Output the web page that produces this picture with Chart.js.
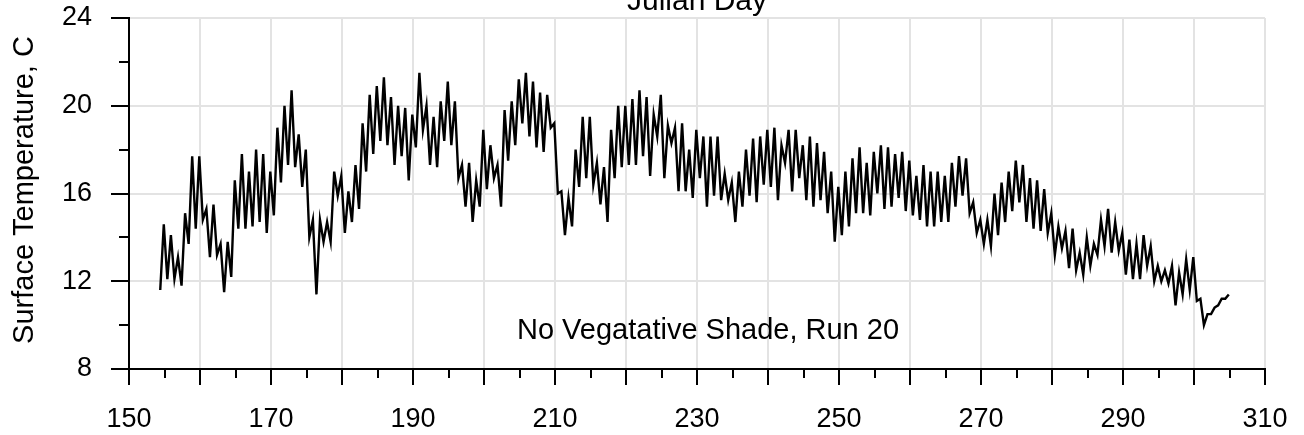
<!DOCTYPE html>
<html>
<head>
<meta charset="utf-8">
<script src="https://cdn.jsdelivr.net/npm/chart.js@4"></script>
<style>
  html, body { margin: 0; padding: 0; background: #fff; }
</style>
</head>
<body>
<canvas id="chart" width="1304" height="435"></canvas>
<script>
// Daily low / high of surface temperature (day 154 .. 304)
const FIRST_DAY = 154;
const dailyMin = [
    11.6, 12.1, 12.1, 11.8, 13.7, 14.4, 14.8, 13.1, 13.2, 11.5,
    12.2, 14.4, 14.4, 14.5, 14.7, 14.2, 15.0, 16.5, 17.3, 17.2,
    16.3, 14.0, 11.4, 13.8, 13.8, 15.9, 14.2, 14.7, 15.3, 17.0,
    17.8, 18.4, 18.2, 17.3, 17.7, 16.6, 18.1, 18.9, 17.3, 17.2,
    18.4, 18.2, 16.7, 15.4, 14.7, 15.4, 16.2, 16.7, 15.4, 17.5,
    18.2, 19.2, 18.6, 18.1, 17.9, 19.0, 16.0, 14.1, 14.5, 16.3,
    16.7, 16.4, 15.5, 14.7, 16.7, 17.2, 17.3, 17.3, 17.7, 16.8,
    18.6, 16.7, 18.3, 16.1, 16.1, 15.8, 16.7, 15.4, 15.9, 15.7,
    15.7, 14.7, 15.4, 15.9, 15.6, 16.4, 16.3, 15.7, 17.4, 16.1,
    16.7, 15.7, 15.4, 15.7, 15.1, 13.8, 14.1, 14.5, 15.1, 15.1,
    15.0, 16.0, 15.3, 15.4, 15.8, 15.2, 15.0, 14.8, 14.5, 14.5,
    14.7, 14.7, 15.4, 15.9, 15.1, 14.2, 13.7, 13.6, 14.1, 14.7,
    15.2, 15.6, 14.7, 14.4, 14.3, 14.2, 13.2, 13.5, 12.6, 12.5,
    12.3, 12.7, 13.2, 13.6, 13.3, 13.4, 12.3, 12.1, 12.1, 12.7,
    12.0, 12.0, 11.9, 10.9, 11.4, 11.6, 11.1, 10.0, 10.5, 10.9,
    11.2
];
const dailyMax = [
    14.6, 14.1, 13.1, 15.1, 17.7, 17.7, 15.3, 15.5, 13.7, 13.8,
    16.6, 17.8, 17.0, 18.0, 17.8, 17.0, 19.0, 20.0, 20.7, 18.7,
    18.0, 14.8, 14.8, 14.7, 17.0, 16.8, 16.1, 17.3, 19.2, 20.5,
    20.9, 21.3, 20.4, 20.0, 19.9, 19.6, 21.5, 20.0, 19.5, 20.2,
    21.1, 20.2, 17.3, 17.4, 16.6, 18.9, 18.2, 17.3, 19.8, 20.2,
    21.2, 21.5, 21.1, 20.6, 20.5, 19.2, 16.1, 15.8, 18.0, 19.5,
    19.5, 17.4, 17.2, 18.9, 20.0, 20.0, 20.3, 20.7, 20.4, 19.6,
    20.5, 19.1, 19.0, 19.2, 18.0, 18.9, 18.6, 18.6, 18.6, 16.9,
    16.5, 17.0, 18.0, 18.5, 18.6, 18.9, 19.0, 18.2, 18.9, 18.9,
    18.2, 18.6, 18.3, 17.9, 17.0, 16.3, 17.0, 17.6, 18.1, 17.4,
    17.9, 18.2, 18.1, 17.8, 17.9, 17.5, 16.8, 17.3, 17.0, 17.0,
    16.8, 17.4, 17.7, 17.6, 15.6, 14.8, 14.8, 16.0, 16.5, 17.0,
    17.5, 17.3, 16.7, 16.6, 16.2, 15.1, 14.5, 14.3, 14.4, 13.3,
    14.0, 13.7, 14.8, 15.3, 14.7, 14.2, 13.9, 13.7, 14.1, 13.6,
    12.7, 12.5, 12.7, 12.4, 13.0, 13.1, 11.2, 10.5, 10.8, 11.2,
    11.4
];

// Axis labels
const xLabels = [150, 170, 190, 210, 230, 250, 270, 290, 310];
const yLabels = [8, 12, 16, 20, 24];

const FONT = '"Liberation Sans", Arial, sans-serif';
const GRID = '#e3e3e3';

// low late morning, high late evening
const points = [];
dailyMin.forEach((lo, i) => {
    points.push({ x: FIRST_DAY + i + 0.4, y: lo });
    points.push({ x: FIRST_DAY + i + 0.9, y: dailyMax[i] });
});

// drop the label overhang padding so layout.padding alone sets the plot box
function noOverhang(s) {
    s.paddingLeft = s.paddingRight = s.paddingTop = s.paddingBottom = 0;
}

// tick marks + free text (axis title on top, y title, note)
const decor = {
    id: 'decor',
    afterDraw(chart) {
        const { ctx, chartArea: a, scales: { x, y } } = chart;
        ctx.save();
        ctx.strokeStyle = '#000';
        ctx.lineWidth = 2;
        ctx.beginPath();
        for (let v = 150; v <= 310; v += 5) {
            const px = Math.round(x.getPixelForValue(v));
            ctx.moveTo(px, a.bottom);
            ctx.lineTo(px, a.bottom + (v % 10 === 0 ? 16 : 9));
        }
        for (let v = 8; v <= 24; v += 2) {
            const py = Math.round(y.getPixelForValue(v));
            ctx.moveTo(a.left, py);
            ctx.lineTo(a.left - (v % 4 === 0 ? 18 : 10), py);
        }
        ctx.stroke();

        ctx.fillStyle = '#000';
        ctx.textAlign = 'center';
        ctx.font = `30px ${FONT}`;
        ctx.textBaseline = 'alphabetic';
        ctx.fillText('Julian Day', 697, 10);
        ctx.font = `29px ${FONT}`;
        ctx.textBaseline = 'middle';
        ctx.fillText('No Vegatative Shade, Run 20', 708, 331);
        ctx.translate(25, 190);
        ctx.rotate(-Math.PI / 2);
        ctx.fillText('Surface Temperature, C', 0, 0);
        ctx.restore();
    }
};

new Chart(document.getElementById('chart'), {
    type: 'line',
    data: {
        datasets: [{
            data: points,
            borderColor: '#000',
            borderWidth: 2.4,
            pointRadius: 0,
            tension: 0,
            fill: false
        }]
    },
    options: {
        responsive: false,
        animation: false,
        layout: { padding: { top: 18, right: 39, left: 0, bottom: 0 } },
        plugins: { legend: { display: false }, tooltip: { enabled: false } },
        scales: {
            x: {
                type: 'linear',
                min: 150,
                max: 310,
                afterFit: s => { s.height = 66; noOverhang(s); },
                ticks: {
                    stepSize: 5,
                    autoSkip: false,
                    maxRotation: 0,
                    padding: 34,
                    color: '#000',
                    font: { family: FONT, size: 27 },
                    callback: v => xLabels.includes(v) ? String(v) : ''
                },
                grid: {
                    drawTicks: false,
                    lineWidth: 2,
                    color: c => (c.tick && c.tick.value % 10 === 0) ? GRID : 'rgba(0,0,0,0)'
                },
                border: { color: '#000', width: 2 }
            },
            y: {
                min: 8,
                max: 24,
                afterFit: s => { s.width = 129; noOverhang(s); },
                ticks: {
                    stepSize: 2,
                    autoSkip: false,
                    padding: 37,
                    color: '#000',
                    font: { family: FONT, size: 27 },
                    callback: v => yLabels.includes(v) ? String(v) : ''
                },
                grid: {
                    drawTicks: false,
                    lineWidth: 2,
                    color: c => (c.tick && c.tick.value % 4 === 0) ? GRID : 'rgba(0,0,0,0)'
                },
                border: { color: '#000', width: 2 }
            }
        }
    },
    plugins: [decor]
});
</script>
</body>
</html>
